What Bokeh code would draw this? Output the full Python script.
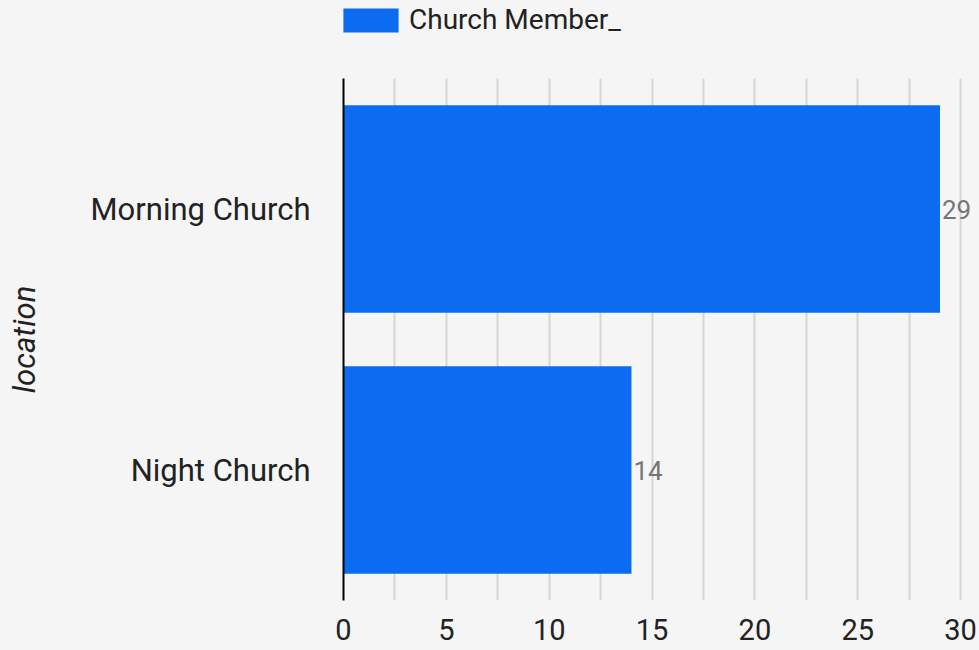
from bokeh.plotting import figure
from bokeh.layouts import column
from bokeh.models import (ColumnDataSource, FixedTicker, Legend, LegendItem,
                          LabelSet, FactorRange, Range1d)
from bokeh.embed import file_html
from bokeh.resources import INLINE
from bokeh.core.properties import value

# ---- data ----
locations = ["Morning Church", "Night Church"]
members = [29, 14]
x_tick_values = [0, 5, 10, 15, 20, 25, 30]
grid_tick_values = [0, 2.5, 5, 7.5, 10, 12.5, 15, 17.5, 20, 22.5, 25, 27.5, 30]
series_name = "Church Member_"
axis_title = "location"

BG = "#f5f5f5"
BAR = "#0b6cf2"
FONT = "Roboto"

src = ColumnDataSource(dict(location=locations, members=members,
                            label=[str(v) for v in members]))

# ---------- main chart ----------
p = figure(width=979, height=572,
           y_range=FactorRange(factors=list(reversed(locations))),
           x_range=Range1d(0, 30.92),
           output_backend="svg", toolbar_location=None,
           min_border_left=343, min_border_right=0,
           min_border_top=0, min_border_bottom=50)
p.background_fill_color = BG
p.border_fill_color = BG
p.outline_line_color = None

r = p.hbar(y="location", right="members", left=0, height=0.795, source=src,
           fill_color=BAR, line_color=None)

labels = LabelSet(x="members", y="location", text="label", source=src,
                  x_offset=2, text_baseline="middle", text_align="left",
                  text_color="#757575", text_font_size="26px",
                  text_font=value(FONT))
p.add_layout(labels)

p.ygrid.grid_line_color = None
p.xgrid.ticker = FixedTicker(ticks=grid_tick_values)
p.xgrid.grid_line_color = "#d6d6d6"
p.xgrid.grid_line_width = 2

p.xaxis.ticker = FixedTicker(ticks=x_tick_values)
p.xaxis.axis_line_color = None
p.xaxis.major_tick_line_color = None
p.xaxis.minor_tick_line_color = None
p.xaxis.major_label_text_font = FONT
p.xaxis.major_label_text_font_size = "29px"
p.xaxis.major_label_text_color = "#222222"
p.xaxis.major_label_standoff = 12

p.yaxis.axis_line_color = "#000000"
p.yaxis.axis_line_width = 2
p.yaxis.major_tick_line_color = None
p.yaxis.minor_tick_line_color = None
p.yaxis.major_label_text_font = FONT
p.yaxis.major_label_text_font_size = "31px"
p.yaxis.major_label_text_color = "#222222"
p.yaxis.major_label_standoff = 27
p.yaxis.axis_label = axis_title
p.yaxis.axis_label_text_font = FONT
p.yaxis.axis_label_text_font_style = "italic"
p.yaxis.axis_label_text_font_size = "31px"
p.yaxis.axis_label_text_color = "#222222"
p.yaxis.axis_label_standoff = 45

# ---------- legend strip ----------
lg = figure(width=979, height=78, x_range=Range1d(0, 979), y_range=Range1d(0, 78),
            output_backend="svg", toolbar_location=None,
            min_border_left=0, min_border_right=0, min_border_top=0,
            min_border_bottom=0, x_axis_type=None, y_axis_type=None)
lg.background_fill_color = BG
lg.border_fill_color = BG
lg.outline_line_color = None
lg.grid.visible = False
# legend proxy: a single NaN-positioned bar that draws nothing itself
swatch = lg.hbar(y=[float("nan")], right=[float("nan")], left=0, height=1,
                 fill_color=BAR, line_color=None)

legend = Legend(items=[LegendItem(label=series_name, renderers=[swatch])],
                location=(-7, 42), orientation="horizontal",
                glyph_width=69, glyph_height=30, label_standoff=4,
                label_height=30,
                padding=0, margin=0, border_line_color=None,
                background_fill_alpha=0,
                label_text_font=FONT, label_text_font_size="28px",
                label_text_color="#222222")
lg.add_layout(legend)

layout = column(lg, p, spacing=0, styles={"background-color": BG})
open("out.html", "w").write(file_html(layout, INLINE))
